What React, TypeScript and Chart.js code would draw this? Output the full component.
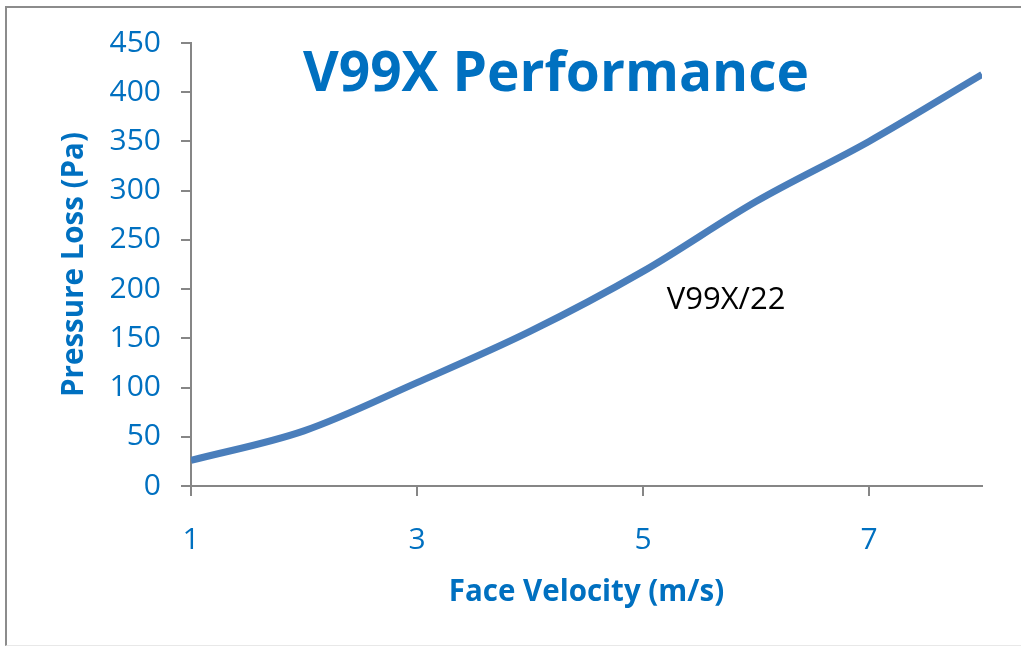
import { useEffect, useRef } from "react";
import { Chart, registerables } from "chart.js";

Chart.register(...registerables);

const faceVelocity = [1, 2, 3, 4, 5, 6, 7, 8];
const pressureLoss = [26, 56, 105, 157, 218, 289, 350, 418];
const xTickValues = [1, 3, 5, 7];
const chartTitle = "V99X Performance";
const seriesLabel = "V99X/22";
const seriesLabelAt = { x: 5.21, y: 189 };
const xTitle = "Face Velocity (m/s)";
const yTitle = "Pressure Loss (Pa)";

const BLUE = "#0070C0";
const LINE = "#4A7EBB";
const AXIS = "#868686";
const FONT = "'Open Sans', 'Noto Sans', sans-serif";

const W = 1021;
const H = 648;

export default function App() {
  const ref = useRef<HTMLCanvasElement | null>(null);

  useEffect(() => {
    if (!ref.current) return;
    const overlay = {
      id: "overlay",
      afterDraw(chart: any) {
        const ctx = chart.ctx;
        ctx.save();
        ctx.fillStyle = BLUE;
        ctx.font = `bold 55px ${FONT}`;
        ctx.textAlign = "center";
        ctx.textBaseline = "alphabetic";
        ctx.fillText(chartTitle, 556, 91);
        const xs = chart.scales.x;
        const ys = chart.scales.y;
        ctx.fillStyle = "#000000";
        ctx.font = `31px ${FONT}`;
        ctx.textAlign = "left";
        ctx.textBaseline = "middle";
        ctx.fillText(seriesLabel, xs.getPixelForValue(seriesLabelAt.x), ys.getPixelForValue(seriesLabelAt.y));
        ctx.restore();
      },
    };
    const chart = new Chart(ref.current, {
      type: "line",
      data: {
        datasets: [
          {
            label: seriesLabel,
            data: faceVelocity.map((x, i) => ({ x, y: pressureLoss[i] })),
            borderColor: LINE,
            borderWidth: 7,
            pointRadius: 0,
            cubicInterpolationMode: "monotone",
            fill: false,
            borderCapStyle: "butt",
          },
        ],
      },
      options: {
        responsive: false,
        animation: false,
        layout: { padding: { left: 10, top: 43, right: 39, bottom: 0 } },
        plugins: { legend: { display: false }, title: { display: false }, tooltip: { enabled: false } },
        scales: {
          x: {
            type: "linear",
            min: 1,
            max: 8,
            afterBuildTicks: (s: any) => {
              s.ticks = xTickValues.map((v) => ({ value: v }));
            },
            afterFit: (s: any) => {
              s.height = H - 486;
            },
            grid: { display: true, drawOnChartArea: false, drawTicks: true, tickLength: 10, color: AXIS, lineWidth: 2 },
            border: { display: true, color: AXIS, width: 2 },
            ticks: { color: BLUE, font: { family: FONT, size: 30 }, padding: 26, maxRotation: 0 },
            title: {
              display: true,
              text: xTitle,
              color: BLUE,
              font: { family: FONT, size: 29.5, weight: "bold" },
              padding: { top: 0, bottom: 38 },
            },
          },
          y: {
            min: 0,
            max: 450,
            afterFit: (s: any) => {
              s.width = 191 - 10;
            },
            ticks: { stepSize: 50, color: BLUE, font: { family: FONT, size: 30 }, padding: 20 },
            grid: { display: true, drawOnChartArea: false, drawTicks: true, tickLength: 10, color: AXIS, lineWidth: 2 },
            border: { display: true, color: AXIS, width: 2 },
            title: {
              display: true,
              text: yTitle,
              color: BLUE,
              font: { family: FONT, size: 29.5, weight: "bold" },
              padding: { top: 47, bottom: 0 },
            },
          },
        },
      },
      plugins: [overlay],
    } as any);
    return () => chart.destroy();
  }, []);

  return (
    <div style={{ position: "fixed", left: 0, top: 0, width: W, height: H, background: "#ffffff", overflow: "hidden" }}>
      <div
        style={{
          position: "absolute",
          left: 5,
          top: 6,
          width: W,
          height: H - 8,
          borderLeft: "2px solid #8c8c8c",
          borderTop: "2px solid #8c8c8c",
          borderBottom: "1px solid #e8e8e8",
          boxSizing: "border-box",
        }}
      />
      <canvas ref={ref} width={W} height={H} style={{ position: "absolute", left: 0, top: 0 }} />
    </div>
  );
}
